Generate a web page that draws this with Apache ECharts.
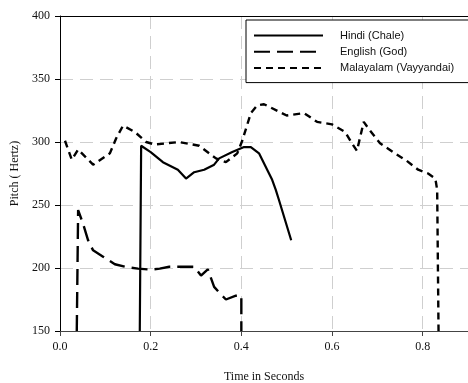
<!DOCTYPE html>
<html>
<head>
<meta charset="utf-8">
<script src="https://cdn.jsdelivr.net/npm/echarts@6/dist/echarts.min.js"></script>
<style>html,body{margin:0;padding:0;background:#fff;}#c{width:468px;height:383px;}</style>
</head>
<body>
<div id="c"></div>
<script>
const seriesNames = ['Hindi (Chale)', 'English (God)', 'Malayalam (Vayyandai)'];
const hindi = [[0.176,150],[0.179,297],[0.2,292],[0.227,284],[0.26,278],[0.278,271],[0.296,276],[0.318,278],[0.34,282],[0.351,287],[0.38,292],[0.406,296],[0.421,296],[0.439,291],[0.457,278],[0.468,270],[0.476,262],[0.483,254],[0.51,222]];
const english = [[0.037,150],[0.040,246],[0.051,235],[0.062,222],[0.073,214],[0.095,209],[0.121,203],[0.143,201],[0.172,199.5],[0.201,198.7],[0.22,199.5],[0.241,201],[0.271,201],[0.296,201],[0.311,194],[0.326,199],[0.34,185],[0.355,179],[0.366,175],[0.388,178],[0.4,178],[0.4,150]];
const malayalam = [[0.011,301],[0.026,286],[0.04,294],[0.073,282],[0.11,291],[0.124,303],[0.139,313],[0.165,308],[0.19,300],[0.209,298],[0.263,300],[0.307,297],[0.344,287],[0.366,284],[0.391,291],[0.402,301],[0.421,323],[0.435,329],[0.45,330],[0.5,321],[0.538,323],[0.567,316],[0.6,314],[0.629,308],[0.644,299],[0.655,293],[0.67,316],[0.684,309],[0.706,299],[0.739,291],[0.765,285],[0.79,278],[0.812,275],[0.828,271],[0.832,262],[0.835,150]];
const xTicks = {min: 0, max: 0.9, interval: 0.2};
const yTicks = {min: 150, max: 400, interval: 50};

const chart = echarts.init(document.getElementById('c'), null, {renderer: 'canvas'});
const serif = '"Liberation Serif", "Times New Roman", serif';
const sans = '"Liberation Sans", Arial, sans-serif';
const gridLine = {color: '#cfcfcf', width: 1, type: [13, 7]};
chart.setOption({
  backgroundColor: '#fff',
  animation: false,
  grid: {left: 60, right: 0, top: 16, bottom: 52, containLabel: false, outerBoundsMode: 'none'},
  legend: {
    orient: 'vertical', left: 246, top: 20,
    padding: [10, 70, 9, 7],
    itemWidth: 69, itemHeight: 14, itemGap: 5,
    borderColor: '#000', borderWidth: 1, backgroundColor: '#fff',
    itemStyle: {opacity: 0},
    textStyle: {fontFamily: sans, fontSize: 11, color: '#111', padding: [0, 0, 0, 12]},
    data: seriesNames
  },
  xAxis: [{
    type: 'value', min: xTicks.min, max: xTicks.max, interval: xTicks.interval,
    name: 'Time in Seconds', nameLocation: 'middle', nameGap: 40,
    nameTextStyle: {fontFamily: serif, fontSize: 12, color: '#111'},
    axisLine: {show: true, lineStyle: {color: '#444', width: 1}},
    axisTick: {show: true, length: 5, lineStyle: {color: '#444'}},
    axisLabel: {fontFamily: serif, fontSize: 12, color: '#111', margin: 10, showMaxLabel: false,
      formatter: v => v.toFixed(1)},
    splitLine: {show: true, lineStyle: gridLine}
  }, {
    type: 'value', position: 'top', min: xTicks.min, max: xTicks.max,
    axisLine: {show: true, lineStyle: {color: '#000', width: 1}},
    axisTick: {show: false}, axisLabel: {show: false}, splitLine: {show: false}
  }],
  yAxis: {
    type: 'value', min: yTicks.min, max: yTicks.max, interval: yTicks.interval,
    name: 'Pitch ( Hertz)', nameLocation: 'middle', nameGap: 39,
    nameTextStyle: {fontFamily: serif, fontSize: 12, color: '#111'},
    axisLine: {show: true, lineStyle: {color: '#000', width: 1}},
    axisTick: {show: true, length: 5, lineStyle: {color: '#000'}},
    axisLabel: {fontFamily: serif, fontSize: 12, color: '#111', margin: 10},
    splitLine: {show: true, lineStyle: gridLine}
  },
  series: [
    {name: seriesNames[0], type: 'line', data: hindi, symbol: 'none',
      lineStyle: {color: '#000', width: 2.2, type: 'solid'}, itemStyle: {color: '#000'}},
    {name: seriesNames[1], type: 'line', data: english, symbol: 'none',
      lineStyle: {color: '#000', width: 2.4, type: [16, 7]}, itemStyle: {color: '#000'}},
    {name: seriesNames[2], type: 'line', data: malayalam, symbol: 'none',
      lineStyle: {color: '#000', width: 2.4, type: [7, 5]}, itemStyle: {color: '#000'}}
  ]
});
</script>
</body>
</html>
